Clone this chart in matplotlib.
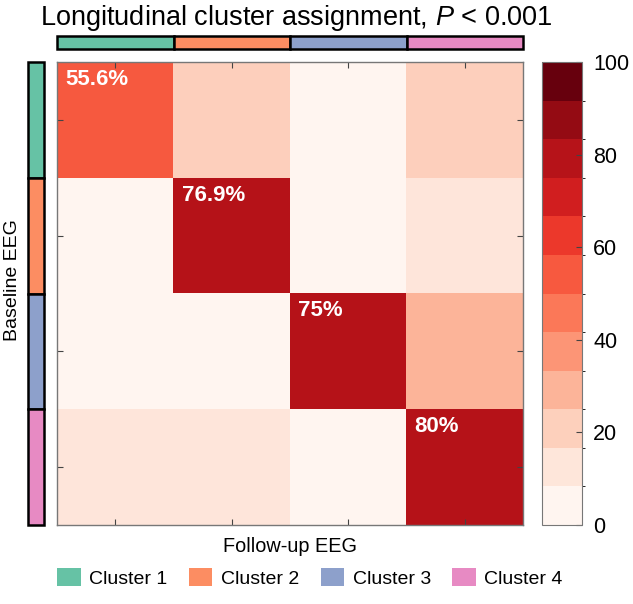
import numpy as np
import matplotlib
matplotlib.use("Agg")
import matplotlib.pyplot as plt
from matplotlib.colors import ListedColormap, BoundaryNorm
from matplotlib.patches import Patch

plt.rcParams["font.family"] = ["Liberation Sans", "DejaVu Sans"]
plt.rcParams["mathtext.fontset"] = "custom"
plt.rcParams["mathtext.it"] = "Liberation Sans:italic"
plt.rcParams["mathtext.rm"] = "Liberation Sans"

# cluster labels and colours (Set2)
CLUSTERS = ["Cluster 1", "Cluster 2", "Cluster 3", "Cluster 4"]
CL_COLORS = ["#66c2a5", "#fc8d62", "#8da0cb", "#e78ac3"]

# % of baseline cluster (rows) assigned to follow-up cluster (cols)
ROW1 = [55.6, 22.2, 0.0, 22.2]
ROW2 = [7.7, 76.9, 0.0, 15.4]
ROW3 = [0.0, 0.0, 75.0, 25.0]
ROW4 = [10.0, 10.0, 0.0, 80.0]
CBAR_TICKS = [0, 20, 40, 60, 80, 100]

M = np.array([ROW1, ROW2, ROW3, ROW4])
n = len(CLUSTERS)
W, H = 633, 604

cmap = ListedColormap(plt.cm.Reds(np.linspace(0, 1, 12)))
norm = BoundaryNorm(np.linspace(0, 100, 13), cmap.N)

fig = plt.figure(figsize=(W / 100, H / 100), dpi=100)


def box(x0, y0, x1, y1):
    # pixel box (top-left origin) -> figure fraction rect
    return [x0 / W, 1 - y1 / H, (x1 - x0) / W, (y1 - y0) / H]


ax = fig.add_axes(box(57, 62, 523, 525))
im = ax.imshow(M, cmap=cmap, norm=norm, aspect="auto", interpolation="nearest")
ax.set_xticks(range(n))
ax.set_yticks(range(n))
ax.tick_params(direction="in", length=4, width=0.8, color="#444444",
               top=True, right=True, labelbottom=False, labelleft=False)
for s in ax.spines.values():
    s.set_color("#777777")
    s.set_linewidth(1.0)
for i in range(n):
    ax.text(i - 0.43, i - 0.44, f"{M[i, i]:g}%", color="white", fontsize=16,
            weight="bold", ha="left", va="top")
ax.set_xlabel("Follow-up EEG", fontsize=14.3, labelpad=9)

# top colour strip
axt = fig.add_axes(box(57, 36, 523, 49))
axt.bar(range(n), 1, width=1, color=CL_COLORS, edgecolor="black", lw=1.8, clip_on=False)
axt.set_xlim(-0.5, n - 0.5)
axt.set_ylim(0, 1)
axt.axis("off")

# left colour strip
axl = fig.add_axes(box(28, 62, 44, 525))
axl.barh(range(n), 1, height=1, color=CL_COLORS, edgecolor="black", lw=1.8, clip_on=False)
axl.set_ylim(n - 0.5, -0.5)
axl.set_xlim(0, 1)
axl.axis("off")
fig.text(13 / W, 1 - 280 / H, "Baseline EEG", rotation=90, fontsize=14,
         ha="center", va="center")

# colourbar
cax = fig.add_axes(box(542, 62, 582, 525))
cb = fig.colorbar(im, cax=cax, ticks=CBAR_TICKS)
cb.outline.set_edgecolor("#777777")
cb.ax.tick_params(direction="in", length=4, labelsize=15.5, color="#444444", pad=8)

fig.text(296 / W, 1 - 18 / H, r"Longitudinal cluster assignment, $\mathit{P}$ < 0.001",
         fontsize=19.5, ha="center", va="center")

handles = [Patch(facecolor=c, edgecolor="none", label=l) for c, l in zip(CL_COLORS, CLUSTERS)]
fig.legend(handles=handles, loc="center", ncol=4, frameon=False, fontsize=14,
           bbox_to_anchor=(310 / W, 1 - 578 / H), handlelength=1.2, handleheight=1.0,
           handletextpad=0.45, columnspacing=1.1)

fig.savefig("out.png", dpi=100, facecolor="white")
